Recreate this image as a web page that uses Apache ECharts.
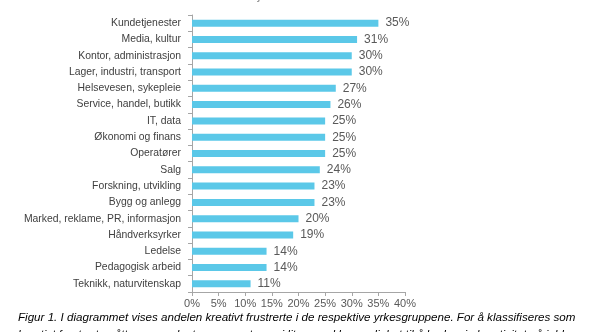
<!DOCTYPE html>
<html><head><meta charset="utf-8">
<script src="https://cdn.jsdelivr.net/npm/echarts@6/dist/echarts.min.js"></script>
<style>html,body{margin:0;padding:0;background:#fff}#c{width:591px;height:332px}</style>
</head><body><div id="c"></div>
<script>
const categories = ["Kundetjenester","Media, kultur","Kontor, administrasjon","Lager, industri, transport","Helsevesen, sykepleie","Service, handel, butikk","IT, data","Økonomi og finans","Operatører","Salg","Forskning, utvikling","Bygg og anlegg","Marked, reklame, PR, informasjon","Håndverksyrker","Ledelse","Pedagogisk arbeid","Teknikk, naturvitenskap"];
const values = [35,31,30,30,27,26,25,25,25,24,23,23,20,19,14,14,11];
const xTicks = [0,5,10,15,20,25,30,35,40];
const titleText = "Kreativ frustrasjon";
const captionLine1 = "Figur 1. I diagrammet vises andelen kreativt frustrerte i de respektive yrkesgruppene. For å klassifiseres som";
const captionLine2 = "kreativt frustrert, måtte respondenten svare at man i liten grad har mulighet til å bruke sin kreativitet på jobb og at";

const chart = echarts.init(document.getElementById('c'), null, {renderer:'canvas'});
chart.setOption({
  animation:false,
  backgroundColor:'#fff',
  grid:{left:192,right:186,top:15,bottom:40,containLabel:false},
  xAxis:{type:'value',min:xTicks[0],max:xTicks[xTicks.length-1],interval:5,
    axisLine:{show:true,lineStyle:{color:'#a6a6a6'}},
    axisTick:{show:true,length:4,lineStyle:{color:'#a6a6a6'}},
    splitLine:{show:false},
    axisLabel:{formatter:v=>v+'%',color:'#595959',fontFamily:'Liberation Sans',fontSize:11,margin:6}},
  yAxis:{type:'category',data:categories,inverse:true,
    axisLine:{show:true,lineStyle:{color:'#a6a6a6'}},
    axisTick:{show:true,length:4,lineStyle:{color:'#a6a6a6'}},
    axisLabel:{color:'#404040',fontFamily:'Liberation Sans',fontSize:10.4,margin:11}},
  series:[{type:'bar',data:values,barWidth:7,
    itemStyle:{color:'#5bc8e8'},
    label:{show:true,position:'right',distance:7,formatter:p=>p.value+'%',color:'#595959',fontFamily:'Liberation Sans',fontSize:12}}],
  graphic:[
    {type:'text',left:170,top:-11,style:{text:titleText,fill:'#8c8c8c',font:'13px "Liberation Sans"'}},
    {type:'text',left:18,top:312,style:{text:captionLine1,fill:'#000',font:'italic 11.6px "Liberation Sans"'}},
    {type:'text',left:18,top:329,style:{text:captionLine2,fill:'#000',font:'italic 11.6px "Liberation Sans"'}}
  ]
});
</script></body></html>
